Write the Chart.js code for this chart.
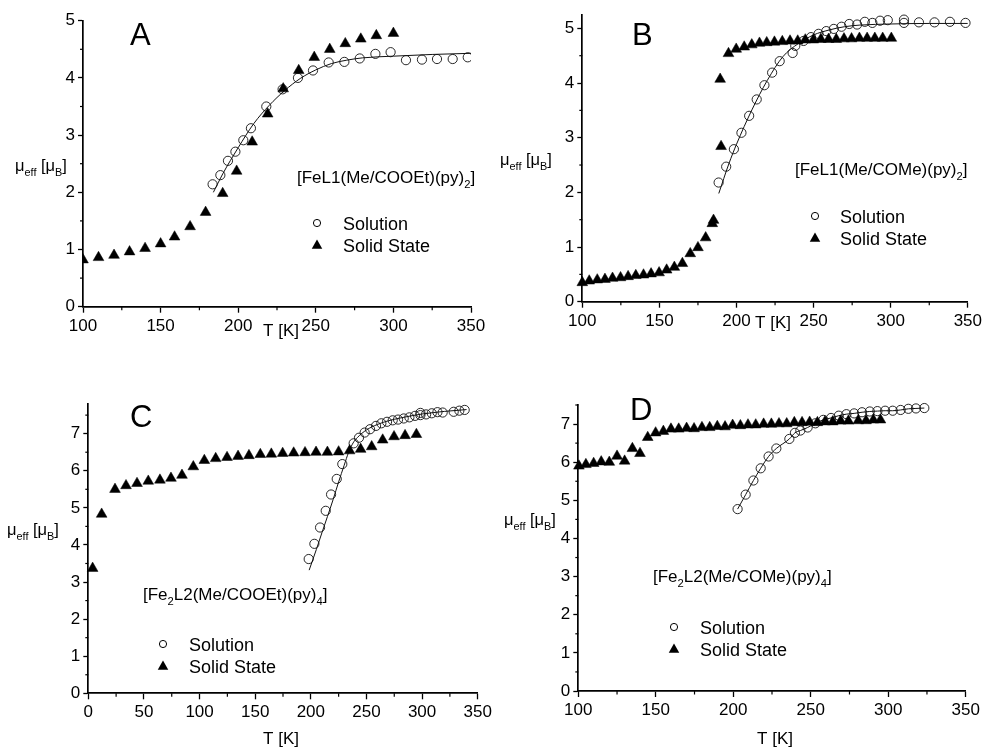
<!DOCTYPE html>
<html><head><meta charset="utf-8">
<script src="https://cdn.jsdelivr.net/npm/chart.js@4.4.1/dist/chart.umd.min.js"></script>
<style>
html,body{margin:0;padding:0;background:#fff;}
#wrap{position:relative;width:985px;height:748px;overflow:hidden;background:#fff;}
canvas{position:absolute;left:0;top:0;}
</style></head><body>
<div id="wrap">
<canvas id="cA" width="985" height="748"></canvas>
<canvas id="cB" width="985" height="748"></canvas>
<canvas id="cC" width="985" height="748"></canvas>
<canvas id="cD" width="985" height="748"></canvas>
</div>
<script>
// ---------- DATA ----------
// Panel A  [FeL1(Me/COOEt)(py)2]
const aSolidT  = [100,110,120,130,140,150,159,169,179,190,199,209,219,229,239,249,259,269,279,289,300];
const aSolidMu = [0.82,0.86,0.90,0.96,1.02,1.10,1.22,1.40,1.65,1.98,2.37,2.88,3.37,3.81,4.13,4.36,4.50,4.60,4.68,4.74,4.78];
const aSolT  = [183.5,188.5,193.4,198.2,203.3,208.2,218.1,228.6,238.5,248.2,258.3,268.4,278.3,288.4,298.2,308.1,318.4,328.1,338.2,347.9];
const aSolMu = [2.14,2.30,2.55,2.71,2.91,3.12,3.50,3.80,4.00,4.13,4.27,4.28,4.34,4.42,4.45,4.31,4.32,4.33,4.33,4.36];
const aFitT  = [184,190,200,210,220,230,240,250,260,270,280,300,325,350];
const aFitMu = [2.0,2.32,2.78,3.2,3.52,3.78,3.99,4.14,4.25,4.31,4.35,4.38,4.41,4.43];
const aXTicks = [100,150,200,250,300,350];
const aYTicks = [0,1,2,3,4,5];

// Panel B  [FeL1(Me/COMe)(py)2]
const bSolidT  = [100,104.5,109.7,114.7,119.6,124.8,129.7,134.7,139.7,144.6,149.8,154.7,159.7,164.9,170,175,180,184.3,185.1,190,189.4,194.8,199.8,205,209.9,214.9,219.6,224.6,229.7,234.7,239.7,244.6,249.8,254.7,259.7,264.7,269.7,274.6,279.7,284.7,289.7,294.8,300.4];
const bSolidMu = [0.35,0.38,0.40,0.41,0.43,0.44,0.46,0.48,0.49,0.51,0.53,0.58,0.63,0.70,0.88,0.99,1.17,1.43,1.49,2.84,4.07,4.54,4.62,4.66,4.70,4.73,4.74,4.75,4.76,4.77,4.77,4.79,4.79,4.80,4.80,4.80,4.81,4.81,4.82,4.82,4.82,4.82,4.82];
const bSolT  = [188.4,193.3,198.3,203.2,208.2,213.1,218.1,223.1,228,236.4,238.1,243.5,248.3,253.2,258.2,263.1,268.1,273.1,278.2,283.2,288.1,293.1,298.1,308.6,308.6,318.3,328.4,338.4,348.5];
const bSolMu = [2.18,2.47,2.79,3.09,3.40,3.70,3.96,4.19,4.40,4.55,4.68,4.77,4.84,4.90,4.95,4.99,5.03,5.08,5.07,5.12,5.10,5.14,5.15,5.16,5.10,5.11,5.11,5.12,5.10];
const bFitT  = [188.5,195,200,210,220,230,240,250,260,270,280,300,325,350];
const bFitMu = [1.98,2.52,2.88,3.51,4.05,4.48,4.72,4.88,4.97,5.03,5.06,5.08,5.09,5.09];
const bXTicks = [100,150,200,250,300,350];
const bYTicks = [0,1,2,3,4,5];

// Panel C  [Fe2L2(Me/COOEt)(py)4]
const cSolidT  = [3.9,12,24,33.9,43.8,53.9,64.4,74.3,84.2,94.4,104.3,114.5,124.7,134.6,144.4,154.6,164.5,174.7,184.6,194.8,204.7,214.9,225,234.9,244.8,254.7,264.6,274.8,284.7,294.9];
const cSolidMu = [3.37,4.83,5.50,5.60,5.66,5.72,5.75,5.80,5.88,6.11,6.28,6.33,6.36,6.39,6.41,6.44,6.45,6.47,6.48,6.49,6.50,6.50,6.51,6.54,6.58,6.65,6.83,6.92,6.95,6.98];
const cSolT  = [198.1,203.2,208.3,213.4,218.2,223.3,228.3,238.5,243.3,248.4,253.2,258.6,263.4,268.5,273.6,278.4,283.5,288.6,293.7,298.5,298.5,303.6,308.7,313.8,318.5,328.4,333.5,338.3];
const cSolMu = [3.62,4.03,4.47,4.92,5.36,5.78,6.18,6.74,6.89,7.03,7.12,7.21,7.28,7.32,7.36,7.38,7.41,7.44,7.48,7.56,7.50,7.52,7.55,7.58,7.57,7.59,7.62,7.64];
const cFitT  = [198.5,205,210,215,220,225,230,234,238,242,250,260,270,280,290,300,320,340];
const cFitMu = [3.32,3.88,4.33,4.77,5.22,5.70,6.15,6.50,6.75,6.90,7.10,7.25,7.35,7.42,7.48,7.53,7.60,7.65];
const cXTicks = [0,50,100,150,200,250,300,350];
const cYTicks = [0,1,2,3,4,5,6,7];

// Panel D  [Fe2L2(Me/COMe)(py)4]
const dSolidT  = [100.4,104.9,109.9,114.8,120,125,129.9,134.9,139.8,144.8,149.9,154.9,159.8,164.8,169.9,174.7,179.8,184.8,189.7,194.7,199.6,204.6,209.5,214.5,219.6,224.6,229.5,234.5,239.4,244.4,249.3,254.3,259.2,264.2,269.3,274.3,280.7,285.7,290.4,295];
const dSolidMu = [5.90,5.94,5.97,6.01,6.00,6.16,6.03,6.36,6.23,6.65,6.77,6.81,6.87,6.87,6.89,6.88,6.91,6.91,6.94,6.93,6.97,6.96,6.98,6.98,7.00,7.00,7.01,7.01,7.04,7.04,7.05,7.04,7.06,7.06,7.08,7.08,7.09,7.09,7.11,7.11];
const dSolT  = [202.8,208,213,217.7,222.8,227.8,236.2,239.8,243.3,248,253,258.1,263.1,268.1,273,278,283.1,288.1,293,298,302.9,308,313,317.9,323.3];
const dSolMu = [4.77,5.15,5.52,5.84,6.15,6.36,6.61,6.77,6.83,6.91,7.02,7.11,7.16,7.22,7.26,7.28,7.31,7.33,7.34,7.35,7.35,7.37,7.40,7.41,7.42];
const dXTicks = [100,150,200,250,300,350];
const dYTicks = [0,1,2,3,4,5,6,7];

const legendLabels = ['Solution','Solid State'];
const axisX = 'T [K]';

// ---------- RENDERING ----------
const FONT = '"Liberation Sans", Arial, Helvetica, sans-serif';
const YW = 40, XH = 40;
const zip = (xs, ys) => xs.map((x, i) => ({x, y: ys[i]}));

function drawRich(ctx, segs, x, y, size) {
  let cx = x;
  for (const s of segs) {
    const fs = s.sub ? size * 0.66 : size;
    ctx.font = fs + 'px ' + FONT;
    ctx.fillText(s.t, cx, y + (s.sub ? size * 0.28 : 0));
    cx += ctx.measureText(s.t).width;
  }
}
function tri(ctx, x, y, w) {
  const h = w * 0.866;
  ctx.beginPath();
  ctx.moveTo(x, y - h * 0.6);
  ctx.lineTo(x + w / 2, y + h * 0.4);
  ctx.lineTo(x - w / 2, y + h * 0.4);
  ctx.closePath();
  ctx.fill();
}
function range(a, b, s) { const r = []; for (let v = a; v <= b + 1e-9; v += s) r.push(+v.toFixed(4)); return r; }

function makeDeco(p) {
  return {
    id: 'deco' + p.id,
    afterDraw(chart) {
      const ctx = chart.ctx;
      const xs = chart.scales.x, ys = chart.scales.y;
      ctx.save();
      ctx.strokeStyle = '#000'; ctx.fillStyle = '#000'; ctx.lineWidth = 1.2;
      // minor ticks
      for (const v of range(xs.min, xs.max, p.xMinor)) {
        if (Math.abs(v / p.xMajor - Math.round(v / p.xMajor)) < 1e-6) continue;
        const px = xs.getPixelForValue(v);
        ctx.beginPath(); ctx.moveTo(px, xs.top); ctx.lineTo(px, xs.top + 3.5); ctx.stroke();
      }
      for (const v of range(ys.min, ys.max, p.yMinor)) {
        if (Math.abs(v / p.yMajor - Math.round(v / p.yMajor)) < 1e-6) continue;
        const py = ys.getPixelForValue(v);
        ctx.beginPath(); ctx.moveTo(ys.right, py); ctx.lineTo(ys.right - 3, py); ctx.stroke();
      }
      ctx.textBaseline = 'alphabetic';
      ctx.textAlign = 'left';
      // panel letter
      ctx.font = '31px ' + FONT;
      ctx.fillText(p.letter.t, p.letter.x, p.letter.y);
      // compound
      drawRich(ctx, p.comp.segs, p.comp.x, p.comp.y, 17);
      // legend
      ctx.lineWidth = 1;
      ctx.beginPath(); ctx.arc(p.leg.x, p.leg.y1, 3.6, 0, Math.PI * 2); ctx.stroke();
      tri(ctx, p.leg.x, p.leg.y2, 10.5);
      ctx.font = '18px ' + FONT;
      ctx.fillText(legendLabels[0], p.leg.tx, p.leg.y1 + 6.5);
      ctx.fillText(legendLabels[1], p.leg.tx, p.leg.y2 + 6.5);
      // y label
      drawRich(ctx, [{t:'\u03bc'},{t:'eff',sub:1},{t:' [\u03bc'},{t:'B',sub:1},{t:']'}], p.yl.x, p.yl.y, 16.5);
      // x label
      ctx.font = '17px ' + FONT;
      ctx.textAlign = 'center';
      ctx.fillText(axisX, p.xl.x, p.xl.y);
      ctx.restore();
    }
  };
}

function makeChart(p) {
  const axisCommon = (ticksArr, isX) => ({
    type: 'linear',
    afterBuildTicks(s) { s.ticks = ticksArr.map(v => ({value: v})); },
    afterFit(s) { if (isX) s.height = XH; else s.width = YW; },
    grid: {display: true, drawOnChartArea: false, drawTicks: true, tickLength: isX ? 6 : 5,
           color: '#000', tickColor: '#000', tickWidth: 1.3},
    border: {display: true, color: '#000', width: 1.7},
    ticks: {color: '#000', font: {family: FONT, size: 17}, padding: 3,
            maxRotation: 0, autoSkip: false}
  });
  const datasets = [
    {label: 'Solid', data: p.solid, pointStyle: 'triangle', pointRadius: 6.2,
     backgroundColor: '#000', borderColor: '#000', borderWidth: 0.5, showLine: false, order: 0, clip: p.clip},
    {label: 'Solution', data: p.sol, pointStyle: 'circle', pointRadius: 4.6,
     backgroundColor: 'rgba(0,0,0,0)', borderColor: '#111', borderWidth: 0.9, showLine: false, order: 1, clip: p.clip},
    {label: 'Fit', data: p.fit, showLine: true, pointRadius: 0, borderColor: '#111', borderWidth: 1,
     tension: 0.4, cubicInterpolationMode: 'monotone', fill: false, order: 5}
  ];
  new Chart(document.getElementById(p.id), {
    type: 'scatter',
    data: {datasets},
    options: {
      responsive: false, animation: false, devicePixelRatio: 1,
      layout: {padding: {left: p.L - YW, top: p.T, right: 985 - p.R, bottom: 748 - p.B - XH}},
      plugins: {legend: {display: false}, tooltip: {enabled: false}},
      scales: {
        x: Object.assign(axisCommon(p.xt, true), {min: p.xmin, max: p.xmax}),
        y: Object.assign(axisCommon(p.yt, false), {min: p.ymin, max: p.ymax})
      }
    },
    plugins: [makeDeco(p)]
  });
}

makeChart({id: 'cA', L: 83, R: 471, T: 20.7, B: 306.7, xmin: 100, xmax: 350, ymin: 0, ymax: 5,
  xt: aXTicks, yt: aYTicks, xMajor: 50, xMinor: 25, yMajor: 1, yMinor: 0.5,
  solid: zip(aSolidT, aSolidMu), sol: zip(aSolT, aSolMu), fit: zip(aFitT, aFitMu), clip: undefined,
  letter: {t: 'A', x: 130, y: 45},
  comp: {segs: [{t: '[FeL1(Me/COOEt)(py)'}, {t: '2', sub: 1}, {t: ']'}], x: 297, y: 183},
  leg: {x: 317, y1: 223, y2: 245, tx: 343},
  yl: {x: 15, y: 171}, xl: {x: 281, y: 336}});

makeChart({id: 'cB', L: 582.3, R: 969, T: 14.7, B: 301.7, xmin: 100, xmax: 350, ymin: 0, ymax: 5.25,
  xt: bXTicks, yt: bYTicks, xMajor: 50, xMinor: 25, yMajor: 1, yMinor: 0.5,
  solid: zip(bSolidT, bSolidMu), sol: zip(bSolT, bSolMu), fit: zip(bFitT, bFitMu), clip: false,
  letter: {t: 'B', x: 632, y: 45},
  comp: {segs: [{t: '[FeL1(Me/COMe)(py)'}, {t: '2', sub: 1}, {t: ']'}], x: 795, y: 175},
  leg: {x: 815, y1: 216, y2: 238, tx: 840},
  yl: {x: 500, y: 165}, xl: {x: 773, y: 328}});

makeChart({id: 'cC', L: 88.3, R: 477.7, T: 404, B: 693.3, xmin: 0, xmax: 350, ymin: 0, ymax: 7.8,
  xt: cXTicks, yt: cYTicks, xMajor: 50, xMinor: 25, yMajor: 1, yMinor: 0.5,
  solid: zip(cSolidT, cSolidMu), sol: zip(cSolT, cSolMu), fit: zip(cFitT, cFitMu), clip: false,
  letter: {t: 'C', x: 130, y: 427},
  comp: {segs: [{t: '[Fe'}, {t: '2', sub: 1}, {t: 'L2(Me/COOEt)(py)'}, {t: '4', sub: 1}, {t: ']'}], x: 143, y: 600},
  leg: {x: 163, y1: 644, y2: 666, tx: 189},
  yl: {x: 7, y: 535}, xl: {x: 281, y: 744}});

makeChart({id: 'cD', L: 578.3, R: 965.7, T: 405, B: 691, xmin: 100, xmax: 350, ymin: 0, ymax: 7.5,
  xt: dXTicks, yt: dYTicks, xMajor: 50, xMinor: 25, yMajor: 1, yMinor: 0.5,
  solid: zip(dSolidT, dSolidMu), sol: zip(dSolT, dSolMu), fit: zip(dSolT, dSolMu), clip: false,
  letter: {t: 'D', x: 630, y: 420},
  comp: {segs: [{t: '[Fe'}, {t: '2', sub: 1}, {t: 'L2(Me/COMe)(py)'}, {t: '4', sub: 1}, {t: ']'}], x: 653, y: 582},
  leg: {x: 674, y1: 627, y2: 649, tx: 700},
  yl: {x: 504, y: 525}, xl: {x: 775, y: 744}});
</script>
</body></html>
